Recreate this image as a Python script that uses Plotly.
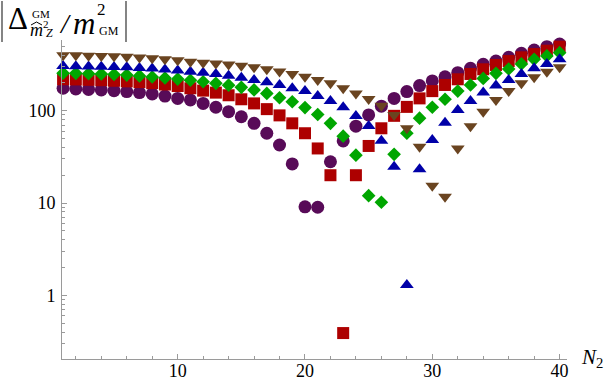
import plotly.graph_objects as go

# ---------------- data ----------------
N2 = list(range(1, 41))

purple_circles = [175, 172, 170, 168, 165, 161, 157, 152, 144, 136,
                  131, 120, 109, 97.5, 86, 73, 57, 42.5, 26.5, 9.1,
                  9.0, 28, 47, 68, 90, 112, 136, 161, 187, 210,
                  233, 258, 288, 318, 345, 379, 419, 454, 494, 528]

red_squares = [219, 218, 216, 214, 211, 208, 204, 199, 192, 185,
               175, 165, 157, 147, 133, 120, 104, 89, 73, 57,
               39, 20, 0.39, 20, 41.5, 64.5, 88, 110, 136, 163,
               190, 219, 250, 281, 313, 345, 379, 411, 447, 494]

green_diamonds = [255, 254, 252, 250, 247, 243, 238, 232, 226, 220,
                  214, 206, 198, 189, 179, 168, 154, 138, 125, 108,
                  91, 73, 53, 33, 12.0, 10.2, 33.7, 57, 83, 109,
                  133, 163, 190, 224, 254, 283, 321, 360, 392, 425]

blue_triangles = [305, 304, 302, 300, 298, 295, 291, 286, 280, 273,
                  265, 258, 250, 239, 228, 215, 203, 190, 175, 163,
                  144, 127, 109, 87.7, 68.3, 47.3, 24.7, 1.29, 23.2, 48.2,
                  74.1, 102, 127, 157, 187, 215, 250, 288, 321, 360]

brown_triangles = [400, 398, 395, 392, 388, 383, 377, 370, 362, 352,
                   340, 331, 325, 317, 307, 295, 282, 266, 250, 233,
                   215, 198, 175, 154, 134, 113, 90, 64.5, 40.7, 15.4,
                   11.7, 39, 68, 97.5, 131, 163, 198, 230, 265, 295]

x_tick_vals = [10, 20, 30, 40]
y_tick_vals = [1, 10, 100]
y_tick_text = ["1", "10", "100"]

# ---------------- figure ----------------
W, H = 608, 380
L, R, T, B = 62, 41, 40, 21
PW, PH = W - L - R, H - T - B


def px(xp):
    return (xp - L) / PW


def py(yp):
    return (H - B - yp) / PH


series = [
    (purple_circles, "circle", 13, "#580b58"),
    (red_squares, "square", 12, "#ad0000"),
    (green_diamonds, "diamond", 10.5, "#00a600"),
    (blue_triangles, "triangle-up", 12, "#0000a8"),
    (brown_triangles, "triangle-down", 12, "#6a4420"),
]

fig = go.Figure()
for vals, sym, size, col in series:
    fig.add_trace(go.Scatter(
        x=N2, y=vals, mode="markers", cliponaxis=False,
        marker=dict(symbol=sym, size=size, color=col, line=dict(width=0)),
        showlegend=False, hoverinfo="skip"))

axis_col = "#9a9a9a"
serif = "Liberation Serif, Times New Roman, serif"
tick_font = dict(family=serif, size=18, color="black")

minor_y = [v * m for m in (0.1, 1, 10) for v in range(2, 10)] + [200, 300, 400, 500]
minor_y = [round(v, 3) for v in minor_y]

fig.update_xaxes(
    range=[0.914, 40.58], showgrid=False, zeroline=False, automargin=False,
    showline=True, linecolor=axis_col, linewidth=1,
    ticks="inside", ticklen=5, tickcolor=axis_col, tickwidth=1,
    tickvals=x_tick_vals, ticktext=[str(v) for v in x_tick_vals],
    tickfont=tick_font, ticklabelstandoff=-5,
    minor=dict(ticks="inside", ticklen=3, tickcolor=axis_col, tickwidth=1,
               tickvals=[v for v in range(2, 40, 2) if v % 10 != 0]),
)
fig.update_yaxes(
    type="log", range=[-0.690, 2.766], showgrid=False, zeroline=False, automargin=False,
    showline=True, linecolor=axis_col, linewidth=1,
    ticks="inside", ticklen=5, tickcolor=axis_col, tickwidth=1,
    tickvals=y_tick_vals, ticktext=y_tick_text,
    tickfont=tick_font, ticklabelstandoff=2,
    minor=dict(ticks="inside", ticklen=3, tickcolor=axis_col, tickwidth=1,
               tickvals=minor_y),
)

ann = []


def txt(t, xp, yp, size, xanchor="center", italic=False):
    ann.append(dict(text=(f"<i>{t}</i>" if italic else t), x=px(xp), y=py(yp),
                    xref="paper", yref="paper", xanchor=xanchor, yanchor="middle",
                    showarrow=False, font=dict(family=serif, size=size, color="black")))


# x-axis label N_2
txt("<i>N</i><sub>2</sub>", 579, 358, 21, xanchor="left")

# y label |Δ^GM_{m̂²_Z} / m²_GM|
txt("Δ", 18, 19, 31)
txt("GM", 41, 14.5, 11)
txt("m", 36.5, 30, 18, italic=True)
txt("2", 45.5, 24.5, 11)
txt("Z", 49.5, 33.5, 12, italic=True)
txt("/", 65, 24, 28, italic=True)
txt("m", 84, 24, 31, italic=True)
txt("2", 101, 9, 17)
txt("GM", 108.5, 30.5, 12)

fig.update_layout(
    width=W, height=H, margin=dict(l=L, r=R, t=T, b=B, pad=0),
    plot_bgcolor="white", paper_bgcolor="white",
    annotations=ann,
    shapes=[
        dict(type="line", xref="paper", yref="paper", x0=px(2), x1=px(2), y0=py(1), y1=py(42),
             line=dict(color="#333333", width=1.2)),
        dict(type="line", xref="paper", yref="paper", x0=px(126), x1=px(126), y0=py(1), y1=py(42),
             line=dict(color="#333333", width=1.2)),
        dict(type="path", xref="paper", yref="paper",
             path=f"M {px(31)},{py(25)} L {px(36.5)},{py(22)} L {px(42)},{py(25)}",
             line=dict(color="black", width=1)),
    ],
)

fig.write_html("out.html", config={"displayModeBar": False},
               post_script="document.body.style.margin='0px';")
